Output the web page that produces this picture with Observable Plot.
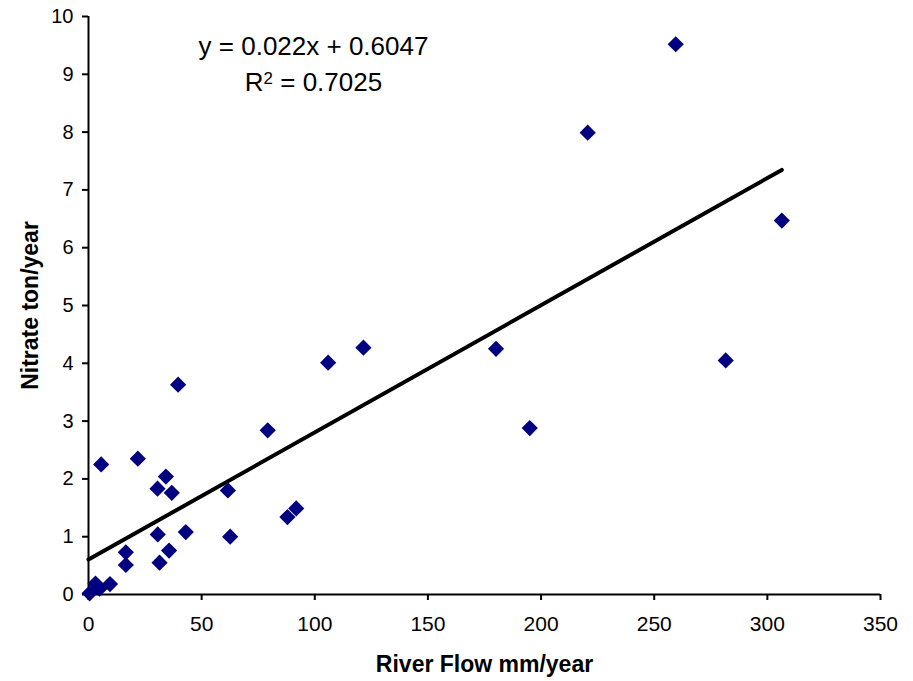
<!DOCTYPE html>
<html>
<head>
<meta charset="utf-8">
<script src="https://cdn.jsdelivr.net/npm/d3@7"></script>
<script src="https://cdn.jsdelivr.net/npm/@observablehq/plot@0.6"></script>
<style>
  html, body { margin: 0; padding: 0; background: #fff; }
</style>
</head>
<body>
<div id="chart"></div>
<script>
// River flow (mm/year)
const flow = [0.5, 3.1, 4.9, 9.5, 16.5, 16.5, 5.6, 21.8, 30.5, 34.2, 36.8, 30.6, 31.4, 35.6, 43.0, 39.6, 61.6, 62.6, 79.2, 87.9, 91.8, 105.9, 121.5, 180.1, 195.0, 220.6, 259.5, 281.6, 306.4];
// Nitrate (ton/year)
const nitrate = [0.02, 0.19, 0.10, 0.18, 0.73, 0.51, 2.25, 2.35, 1.83, 2.04, 1.76, 1.04, 0.55, 0.76, 1.08, 3.63, 1.80, 1.00, 2.84, 1.34, 1.49, 4.01, 4.27, 4.25, 2.88, 7.99, 9.52, 4.05, 6.47];

const xTicks = [0, 50, 100, 150, 200, 250, 300, 350];
const yTicks = [0, 1, 2, 3, 4, 5, 6, 7, 8, 9, 10];
const xDomain = [0, 350];
const yDomain = [0, 10];

const slope = 0.022;
const intercept = 0.6047;
const r2 = 0.7025;

const xLabel = "River Flow mm/year";
const yLabel = "Nitrate ton/year";

const points = flow.map((f, i) => ({x: f, y: nitrate[i]}));
const trendX = [0, d3.max(flow)];
const trend = trendX.map(x => ({x, y: slope * x + intercept}));

const eqLine1 = `y = ${slope}x + ${intercept}`;
const eqLine2 = `R² = ${r2}`;

const chart = Plot.plot({
  width: 913,
  height: 681,
  marginLeft: 88,
  marginRight: 33,
  marginTop: 16,
  marginBottom: 87,
  x: {domain: xDomain},
  y: {domain: yDomain},
  style: {
    fontFamily: "Arial, 'Liberation Sans', sans-serif",
    fontSize: "20px",
    color: "black",
    background: "white"
  },
  marks: [
    Plot.axisX({ticks: xTicks, tickSize: 6, tickPadding: 16, label: null, fontSize: 21, strokeWidth: 2}),
    Plot.axisY({ticks: yTicks, tickSize: 6, tickPadding: 9, label: null, fontSize: 20, strokeWidth: 2}),
    Plot.ruleX([xDomain[0]], {stroke: "black", strokeWidth: 2}),
    Plot.ruleY([yDomain[0]], {stroke: "black", strokeWidth: 2}),
    Plot.line(trend, {x: "x", y: "y", stroke: "black", strokeWidth: 4}),
    Plot.dot(points, {x: "x", y: "y", symbol: "diamond2", r: 7.3, fill: "#000080", stroke: "none"}),
    Plot.text([eqLine1], {text: d => d, frameAnchor: "top-left", dx: 225, dy: 30, fontSize: 26, textAnchor: "middle", lineAnchor: "middle", fill: "black"}),
    Plot.text([eqLine2], {text: d => d, frameAnchor: "top-left", dx: 225, dy: 66, fontSize: 26, textAnchor: "middle", lineAnchor: "middle", fill: "black", className: "r2-label"}),
    Plot.text([xLabel], {text: d => d, frameAnchor: "bottom", dy: 70, fontSize: 23, fontWeight: "bold", lineAnchor: "middle", textAnchor: "middle", fill: "black"}),
    Plot.text([yLabel], {text: d => d, frameAnchor: "left", dx: -58, rotate: -90, fontSize: 23, fontWeight: "bold", lineAnchor: "middle", textAnchor: "middle", fill: "black"})
  ]
});

// Render the R² exponent as a true superscript
d3.select(chart).selectAll("text").each(function() {
  const t = this.textContent;
  if (t === eqLine2) {
    const sel = d3.select(this);
    sel.text(null);
    sel.append("tspan").text("R");
    sel.append("tspan").attr("dy", "-0.42em").attr("font-size", "0.65em").text("2");
    sel.append("tspan").attr("dy", "0.27em").text(" = " + r2);
  }
});

document.getElementById("chart").appendChild(chart);
</script>
</body>
</html>
